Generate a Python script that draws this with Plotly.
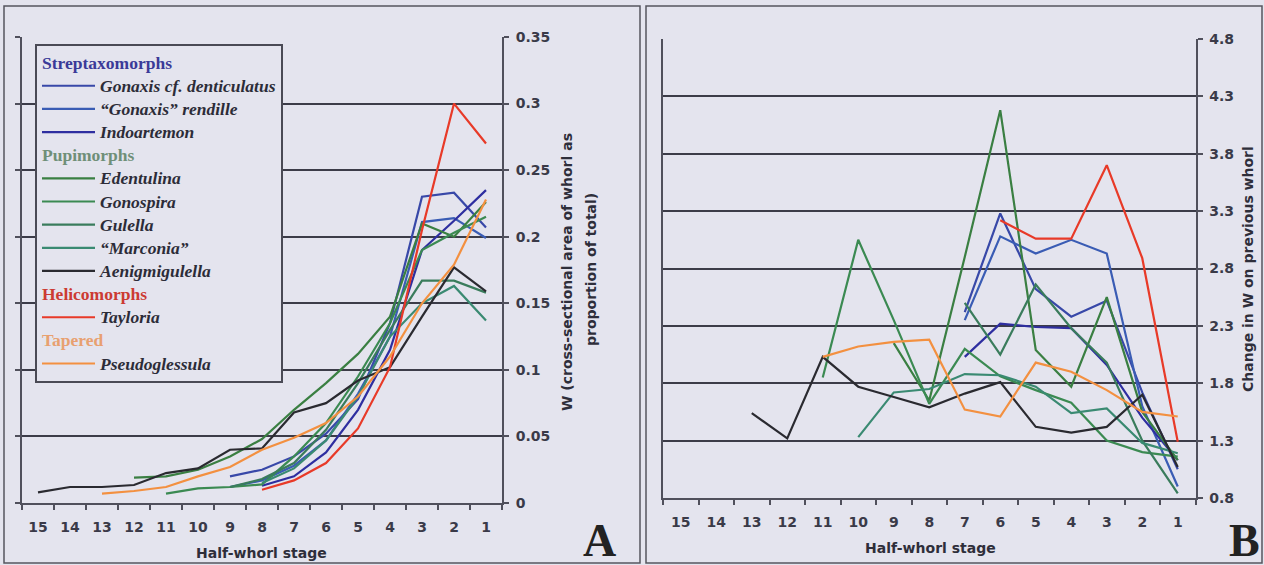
import plotly.graph_objects as go

W, H = 1264, 565

# ---------------- data ----------------
STAGE_TICKS = list(range(15, 0, -1))
A_Y_TICKS = [0, 0.05, 0.1, 0.15, 0.2, 0.25, 0.3, 0.35]
A_Y_LABELS = ["0", "0.05", "0.1", "0.15", "0.2", "0.25", "0.3", "0.35"]
B_Y_TICKS = [0.8, 1.3, 1.8, 2.3, 2.8, 3.3, 3.8, 4.3, 4.8]
B_Y_LABELS = ["0.8", "1.3", "1.8", "2.3", "2.8", "3.3", "3.8", "4.3", "4.8"]

# Panel A: W (proportion of total), listed from the first stage shown down to stage 1
A_GONAXIS_DEN_START = 9
A_GONAXIS_DEN = [0.02, 0.025, 0.035, 0.052, 0.078, 0.135, 0.23, 0.233, 0.207]
A_RENDILLE_START = 9
A_RENDILLE = [0.012, 0.017, 0.028, 0.047, 0.082, 0.125, 0.211, 0.214, 0.199]
A_INDOARTEMON_START = 8
A_INDOARTEMON = [0.013, 0.02, 0.038, 0.07, 0.115, 0.19, 0.212, 0.235]
A_EDENTULINA_START = 12
A_EDENTULINA = [0.019, 0.02, 0.025, 0.035, 0.048, 0.07, 0.09, 0.112, 0.14, 0.21, 0.2, 0.226]
A_GONOSPIRA_START = 11
A_GONOSPIRA = [0.007, 0.011, 0.012, 0.014, 0.035, 0.06, 0.095, 0.135, 0.19, 0.203, 0.215]
A_GULELLA_START = 9
A_GULELLA = [0.012, 0.018, 0.03, 0.055, 0.09, 0.13, 0.167, 0.167, 0.158]
A_MARCONIA_START = 8
A_MARCONIA = [0.015, 0.026, 0.047, 0.08, 0.125, 0.15, 0.163, 0.137]
A_AENIGMI_START = 15
A_AENIGMI = [0.008, 0.012, 0.012, 0.0135, 0.0225, 0.026, 0.04, 0.041, 0.068, 0.075, 0.092, 0.102, 0.14, 0.177, 0.159]
A_TAYLORIA_START = 8
A_TAYLORIA = [0.01, 0.017, 0.03, 0.056, 0.102, 0.205, 0.3, 0.27]
A_PSEUDO_START = 13
A_PSEUDO = [0.007, 0.009, 0.012, 0.02, 0.027, 0.04, 0.049, 0.06, 0.08, 0.11, 0.15, 0.179, 0.228]

# Panel B: change in W on previous whorl
B_GONAXIS_DEN_START = 7
B_GONAXIS_DEN = [2.42, 3.28, 2.62, 2.38, 2.52, 1.72, 1.05]
B_RENDILLE_START = 7
B_RENDILLE = [2.35, 3.08, 2.93, 3.05, 2.93, 1.6, 0.9]
B_INDOARTEMON_START = 7
B_INDOARTEMON = [2.03, 2.32, 2.29, 2.28, 1.96, 1.5, 1.13]
B_EDENTULINA_START = 9
B_EDENTULINA = [2.15, 1.65, 2.9, 4.18, 2.09, 1.77, 2.55, 1.55, 1.13]
B_GONOSPIRA_START = 11
B_GONOSPIRA = [1.85, 3.05, 2.35, 1.62, 2.1, 1.86, 1.74, 1.63, 1.30, 1.20, 1.16]
B_GULELLA_START = 7
B_GULELLA = [2.5, 2.05, 2.66, 2.28, 1.98, 1.3, 0.84]
B_MARCONIA_START = 10
B_MARCONIA = [1.33, 1.72, 1.75, 1.88, 1.87, 1.77, 1.54, 1.58, 1.28, 1.19]
B_AENIGMI_START = 13
B_AENIGMI = [1.54, 1.32, 2.03, 1.77, 1.68, 1.59, 1.71, 1.81, 1.42, 1.37, 1.42, 1.70, 1.07]
B_TAYLORIA_START = 6
B_TAYLORIA = [3.22, 3.06, 3.06, 3.70, 2.89, 1.29]
B_PSEUDO_START = 11
B_PSEUDO = [2.03, 2.12, 2.16, 2.18, 1.57, 1.51, 1.98, 1.90, 1.74, 1.55, 1.51]

GROUPS = [
    ("strep", "Streptaxomorphs", "#3a3a98"),
    ("pupi", "Pupimorphs", "#6f8f78"),
    ("heli", "Helicomorphs", "#cc3a32"),
    ("tap", "Tapered", "#e8a070"),
]

SERIES = [
    # name, group, colour, A start, A values, B start, B values
    ("Gonaxis cf. denticulatus", "strep", "#3848a8", A_GONAXIS_DEN_START, A_GONAXIS_DEN, B_GONAXIS_DEN_START, B_GONAXIS_DEN),
    ("\u201cGonaxis\u201d rendille", "strep", "#3a5cb4", A_RENDILLE_START, A_RENDILLE, B_RENDILLE_START, B_RENDILLE),
    ("Indoartemon", "strep", "#2e2ea0", A_INDOARTEMON_START, A_INDOARTEMON, B_INDOARTEMON_START, B_INDOARTEMON),
    ("Edentulina", "pupi", "#3a7f42", A_EDENTULINA_START, A_EDENTULINA, B_EDENTULINA_START, B_EDENTULINA),
    ("Gonospira", "pupi", "#3b8a52", A_GONOSPIRA_START, A_GONOSPIRA, B_GONOSPIRA_START, B_GONOSPIRA),
    ("Gulella", "pupi", "#3a7c5c", A_GULELLA_START, A_GULELLA, B_GULELLA_START, B_GULELLA),
    ("\u201cMarconia\u201d", "pupi", "#3a8a72", A_MARCONIA_START, A_MARCONIA, B_MARCONIA_START, B_MARCONIA),
    ("Aenigmigulella", "pupi", "#2a2a30", A_AENIGMI_START, A_AENIGMI, B_AENIGMI_START, B_AENIGMI),
    ("Tayloria", "heli", "#e83a28", A_TAYLORIA_START, A_TAYLORIA, B_TAYLORIA_START, B_TAYLORIA),
    ("Pseudoglessula", "tap", "#f39040", A_PSEUDO_START, A_PSEUDO, B_PSEUDO_START, B_PSEUDO),
]

BG = "#e4e4ee"
GRID = "#3c3c48"
TXT = "#3a3a48"


def stages(start, vals):
    return list(range(start, start - len(vals), -1))


fig = go.Figure()
group_seen = set()
for name, grp, col, a_s, a_v, b_s, b_v in SERIES:
    ginfo = [g for g in GROUPS if g[0] == grp][0]
    kw = {}
    if grp not in group_seen:
        group_seen.add(grp)
        kw["legendgrouptitle"] = dict(text='<b><span style="font-size:17.5px">%s</span></b>' % ginfo[1],
                                     font=dict(color=ginfo[2], family="Liberation Serif", size=15.5))
    label = '<span style="font-size:17.5px"><i>%s</i></span>' % name
    fig.add_trace(go.Scatter(x=stages(a_s, a_v), y=a_v, mode="lines", name=label,
                             legendgroup=grp, line=dict(color=col, width=2.2),
                             xaxis="x", yaxis="y", **kw))
    fig.add_trace(go.Scatter(x=stages(b_s, b_v), y=b_v, mode="lines", name=label,
                             legendgroup=grp, showlegend=False, line=dict(color=col, width=2.2),
                             xaxis="x2", yaxis="y2"))


def px_x(x):
    return x / W


def px_y(y):
    return (H - y) / H


tickfont = dict(family="DejaVu Sans", size=14, color=TXT, weight="bold")

xcommon = dict(range=[15.5, 0.5], tickmode="array", tickvals=STAGE_TICKS,
               ticktext=[str(s) for s in STAGE_TICKS], ticks="", tickfont=tickfont,
               showgrid=False, zeroline=False, showline=True, linecolor="#50505c", linewidth=2,
               ticklabelstandoff=10, automargin=False,
               minor=dict(tickmode="array", tickvals=[s + 0.5 for s in range(0, 16)],
                          ticks="outside", ticklen=5, tickcolor="#50505c", tickwidth=2))

fig.update_layout(
    width=W, height=H,
    margin=dict(l=0, r=0, t=0, b=0, autoexpand=False),
    paper_bgcolor=BG, plot_bgcolor=BG,
    xaxis=dict(domain=[px_x(22), px_x(502)], anchor="y", **xcommon),
    yaxis=dict(domain=[px_y(503), px_y(37)], anchor="x", side="right", range=[0, 0.35],
               tickmode="array", tickvals=A_Y_TICKS, ticktext=A_Y_LABELS, tickfont=tickfont,
               ticks="outside", ticklen=5, tickcolor="#50505c", tickwidth=2, automargin=False,
               showgrid=True, gridcolor=GRID, gridwidth=2, zeroline=False,
               showline=True, linecolor="#50505c", linewidth=2, mirror="ticks", ticklabelstandoff=4),
    xaxis2=dict(domain=[px_x(663), px_x(1195.5)], anchor="y2", **xcommon),
    yaxis2=dict(domain=[px_y(498), px_y(39)], anchor="x2", side="right", range=[0.8, 4.8],
                tickmode="array", tickvals=B_Y_TICKS, ticktext=B_Y_LABELS, tickfont=tickfont,
                ticks="outside", ticklen=5, tickcolor="#50505c", tickwidth=2, automargin=False,
                showgrid=True, gridcolor=GRID, gridwidth=2, zeroline=False,
                showline=True, linecolor="#50505c", linewidth=2, mirror=True, ticklabelstandoff=4),
    showlegend=True,
    legend=dict(x=px_x(35), y=px_y(44), xanchor="left", yanchor="top",
                bgcolor=BG, bordercolor="#4a4a55", borderwidth=2,
                font=dict(family="Liberation Serif", size=15.5, color="#2c2c38", weight="bold"),
                tracegroupgap=0, itemwidth=53),
)

annots = [
    dict(text="<b>Half-whorl stage</b>", x=px_x(261), y=px_y(553)),
    dict(text="<b>Half-whorl stage</b>", x=px_x(930), y=px_y(548)),
    dict(text="<b>W (cross-sectional area of whorl as</b>", x=px_x(567), y=px_y(272), textangle=-90),
    dict(text="<b>proportion of total)</b>", x=px_x(591), y=px_y(270), textangle=-90),
    dict(text="<b>Change in W on previous whorl</b>", x=px_x(1248), y=px_y(269), textangle=-90),
]
for a in annots:
    a.update(xref="paper", yref="paper", showarrow=False, xanchor="center", yanchor="middle",
             font=dict(family="DejaVu Sans", size=14, color="#2e2e3a"))
    fig.add_annotation(**a)

for letter, xc in (("A", 599), ("B", 1244)):
    fig.add_annotation(text="<b>%s</b>" % letter, x=px_x(xc), y=px_y(540), xref="paper", yref="paper",
                       showarrow=False, xanchor="center", yanchor="middle",
                       font=dict(family="Liberation Serif", size=46, color="#222222"))

for x0, x1 in ((4, 640), (646, 1262)):
    fig.add_shape(type="rect", xref="paper", yref="paper", x0=px_x(x0), x1=px_x(x1),
                  y0=px_y(563), y1=px_y(6), line=dict(color="#55555f", width=1.5))

fig.write_html("out.html", config={"displayModeBar": False},
               post_script="document.body.style.margin='0';document.body.style.overflow='hidden';"
                           "document.body.style.background='%s';" % BG)
